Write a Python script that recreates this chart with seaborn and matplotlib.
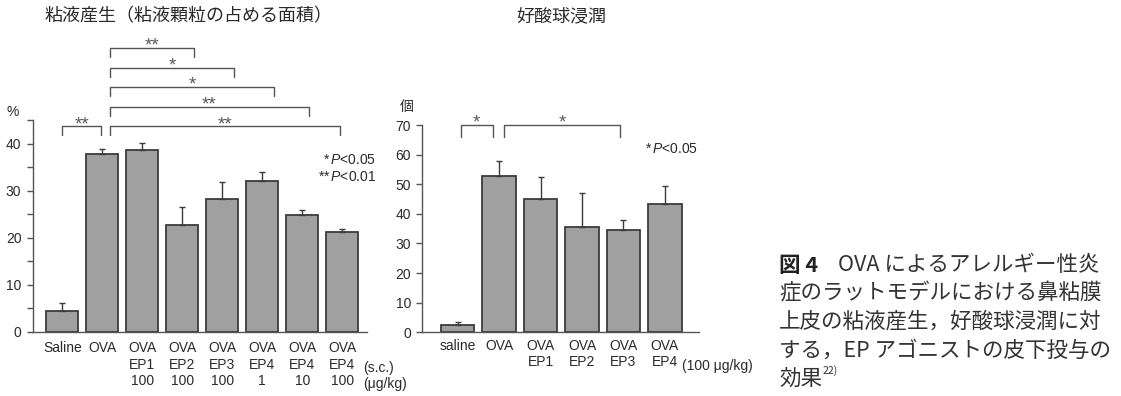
import numpy as np
import pandas as pd
import matplotlib
matplotlib.use("Agg")
import matplotlib.pyplot as plt
import seaborn as sns

# --- data -------------------------------------------------------------
mucus_labels = ["Saline", "OVA", "OVA\nEP1\n100", "OVA\nEP2\n100", "OVA\nEP3\n100",
                "OVA\nEP4\n1", "OVA\nEP4\n10", "OVA\nEP4\n100"]
mucus_mean = [4.3, 37.7, 38.7, 22.7, 28.3, 32.1, 24.9, 21.1]
mucus_err = [1.8, 1.2, 1.5, 3.8, 3.5, 1.9, 0.9, 0.7]

eos_labels = ["saline", "OVA", "OVA\nEP1", "OVA\nEP2", "OVA\nEP3", "OVA\nEP4"]
eos_mean = [2.4, 52.9, 45.1, 35.4, 34.4, 43.2]
eos_err = [1.0, 4.9, 7.5, 11.8, 3.5, 6.3]

# significance brackets: (x_start, x_end, height, label)
mucus_sig = [(0.0, 0.96, 43.7, "**"), (1.19, 3.29, 60.3, "**"), (1.19, 4.29, 56.1, "*"),
             (1.19, 5.29, 52.0, "*"), (1.19, 6.17, 47.8, "**"), (1.19, 6.95, 43.7, "**")]
eos_sig = [(0.08, 0.85, 70.0, "*"), (1.11, 3.92, 70.0, "*")]

# --- style ------------------------------------------------------------
sns.set_theme(style="ticks")
plt.rcParams["font.family"] = ["Liberation Sans", "Noto Sans CJK JP"]
plt.rcParams["mathtext.fontset"] = "custom"
plt.rcParams["mathtext.rm"] = "Liberation Sans"
plt.rcParams["mathtext.it"] = "Liberation Sans:italic"

W, H = 1121, 396
fig = plt.figure(figsize=(W / 100, H / 100), dpi=100)

BAR = "#a0a0a0"
EDGE = "#3c3c3c"
AX = "#555555"
STAR = "#5a5a5a"
TXT = "#2a2a2a"


def px(x, y):
    return x / W, 1 - y / H


def make_axes(left, right, top, bottom):
    l, b = px(left, bottom)
    r, t = px(right, top)
    return fig.add_axes([l, b, r - l, t - b])


def draw_bars(ax, labels, mean, err, pad):
    df = pd.DataFrame({"group": labels, "value": mean})
    sns.barplot(data=df, x="group", y="value", color=BAR, edgecolor=EDGE,
                linewidth=1.3, width=0.8, saturation=1, ax=ax)
    x = np.arange(len(mean))
    ax.errorbar(x, mean, yerr=[np.zeros(len(err)), err], fmt="none",
                ecolor=EDGE, elinewidth=1.0, capsize=2.3, capthick=1.0, zorder=3)
    for s in ["top", "right"]:
        ax.spines[s].set_visible(False)
    for s in ["left", "bottom"]:
        ax.spines[s].set_color(AX)
        ax.spines[s].set_linewidth(1.0)
    ax.set_xlabel("")
    ax.set_ylabel("")
    ax.tick_params(axis="x", length=0, pad=pad, labelsize=10, labelcolor=TXT)
    ax.tick_params(axis="y", length=4, width=1.0, color=AX, pad=4,
                   labelsize=10, labelcolor=TXT)
    for t in ax.get_xticklabels():
        t.set_multialignment("center")
        t.set_linespacing(1.2)


def draw_sig(ax, specs, drop):
    for x0, x1, y, lab in specs:
        ax.plot([x0, x0, x1, x1], [y - drop, y, y, y - drop], color=AX,
                lw=1.0, clip_on=False)
        ax.annotate(lab, xy=((x0 + x1) / 2, y), xytext=(0, -2.0),
                    textcoords="offset points", ha="center", va="baseline",
                    fontsize=13.5, color=STAR, annotation_clip=False)


# --- left panel: mucus production ----------------------------------------
ax1 = make_axes(32.5, 367, 120.1, 331.7)
draw_bars(ax1, mucus_labels, mucus_mean, mucus_err, pad=7)
ax1.set_xlim(-0.75, 7.62)
ax1.set_ylim(0, 45)
ax1.set_yticks(np.arange(0, 46, 5))
ax1.set_yticklabels([str(v) if v % 10 == 0 else "" for v in range(0, 46, 5)])
draw_sig(ax1, mucus_sig, 1.9)

ax1.annotate("(s.c.)", xy=(7.52, 0), xycoords=("data", "axes fraction"),
             xytext=(0, -25.8), textcoords="offset points", ha="left",
             va="center", fontsize=10, color=TXT, annotation_clip=False)
ax1.annotate("(μg/kg)", xy=(7.52, 0), xycoords=("data", "axes fraction"),
             xytext=(0, -37.5), textcoords="offset points", ha="left",
             va="center", fontsize=10, color=TXT, annotation_clip=False)

fig.text(*px(376, 160), r"*$\,P$<0.05", ha="right", va="center", fontsize=10, color=TXT)
fig.text(*px(376, 177), r"**$\,P$<0.01", ha="right", va="center", fontsize=10, color=TXT)
fig.text(*px(13, 112), "%", ha="center", va="center", fontsize=10, color=TXT)
fig.text(*px(189, 17), "粘液産生（粘液顆粒の占める面積）", ha="center", va="center",
         fontsize=13, color=TXT)

# --- right panel: eosinophil infiltration --------------------------------
ax2 = make_axes(422.3, 699, 125, 332.3)
draw_bars(ax2, eos_labels, eos_mean, eos_err, pad=5)
ax2.set_xlim(-0.85, 5.82)
ax2.set_ylim(0, 70)
ax2.set_yticks(np.arange(0, 71, 10))
draw_sig(ax2, eos_sig, 4.0)

ax2.annotate("(100 μg/kg)", xy=(5.42, 0), xycoords=("data", "axes fraction"),
             xytext=(0, -24), textcoords="offset points", ha="left",
             va="center", fontsize=10, color=TXT, annotation_clip=False)

fig.text(*px(698, 149), r"*$\,P$<0.05", ha="right", va="center", fontsize=10, color=TXT)
fig.text(*px(407, 107), "個", ha="center", va="center", fontsize=10, color=TXT)
fig.text(*px(561, 17), "好酸球浸潤", ha="center", va="center", fontsize=13, color=TXT)

# --- caption ------------------------------------------------------------
CAP = 15.5
cap_font = ["Noto Sans CJK JP"]
fig.text(*px(779, 265), "図 4", ha="left", va="center", fontsize=CAP,
         fontweight="bold", color="#222222", family=cap_font)
fig.text(*px(838, 265), "OVA によるアレルギー性炎", ha="left", va="center",
         fontsize=CAP, color="#333333", family=cap_font)
cap_lines = ["症のラットモデルにおける鼻粘膜",
             "上皮の粘液産生，好酸球浸潤に対",
             "する，EP アゴニストの皮下投与の"]
for i, line in enumerate(cap_lines):
    fig.text(*px(779, 293.5 + 28.5 * i), line, ha="left", va="center",
             fontsize=CAP, color="#333333", family=cap_font)
fig.text(*px(779, 379), "効果", ha="left", va="center", fontsize=CAP,
         color="#333333", family=cap_font)
fig.text(*px(823, 371), "22)", ha="left", va="center", fontsize=7.5,
         color="#333333", family=cap_font)

fig.savefig("out.png", dpi=100)
